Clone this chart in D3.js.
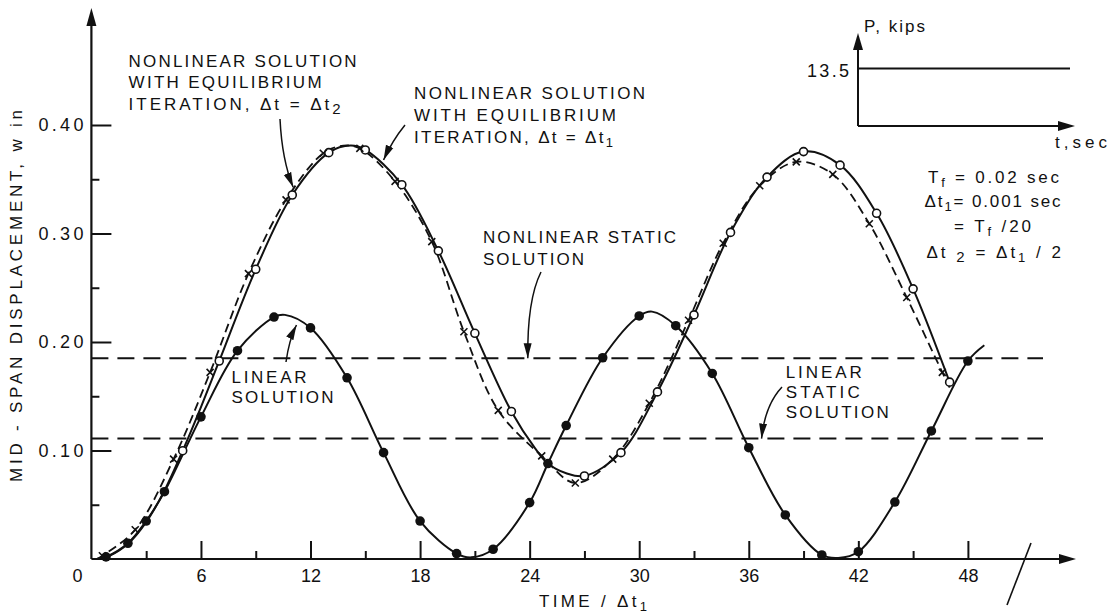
<!DOCTYPE html>
<html>
<head>
<meta charset="utf-8">
<script src="https://cdn.jsdelivr.net/npm/d3@7"></script>
<style>
  body { margin: 0; background: #fff; }
  text { font-family: "Liberation Sans", Arial, sans-serif; fill: #111; }
</style>
</head>
<body>
<div id="chart"></div>
<script>
// ---- data (t in multiples of dt1, w in inches) ----
const xTicks = [6, 12, 18, 24, 30, 36, 42, 48];
const xMinorTicks = [3, 9, 15, 21, 27, 33, 39, 45];
const yTicks = [0.10, 0.20, 0.30, 0.40];
const yMinorTicks = [0.05, 0.15, 0.25, 0.35];

const nonlinearStatic = 0.185;
const linearStatic = 0.111;

// linear solution, filled dots
const linearDots = [[0.8,0.002],[2,0.0145],[3,0.035],[4,0.062],[6,0.131],[8,0.192],[10,0.223],
  [12,0.213],[14,0.167],[16,0.098],[18,0.035],[20,0.005],[22,0.009],[24,0.052],[25,0.088],
  [26,0.123],[28,0.1855],[30,0.224],[32,0.215],[34,0.171],[36,0.1026],[38,0.0406],[40,0.0037],
  [42,0.0067],[44,0.0525],[46,0.118],[48,0.1825]];
// extra points on the linear curve (start, extremes, end)
const linearExtra = [[0.3,0],[10.6,0.225],[20.8,0.0015],[30.7,0.228],[40.9,0.001],[48.9,0.197]];

// nonlinear with equilibrium iteration, dt = dt1 (solid, open circles)
const nonlin1Circles = [[5,0.0998],[7,0.1825],[9,0.267],[11,0.3355],[13,0.3745],[15,0.377],
  [17,0.345],[19,0.284],[21,0.208],[23,0.136],[27,0.0765],[29,0.098],[31,0.154],[33,0.225],
  [35,0.301],[37,0.352],[39,0.3755],[41,0.363],[43,0.3186],[45,0.249],[47,0.163]];
const nonlin1Extra = [[0.3,0],[1,0.003],[2,0.014],[3,0.034],[4,0.063],[6,0.14],[14.2,0.381],
  [24.3,0.102],[25,0.088],[26,0.079]];

// nonlinear with equilibrium iteration, dt = dt2 (dashed, x marks)
const nonlin2Marks = [[0.6,0.003],[2.4,0.027],[4.5,0.092],[6.5,0.172],[8.6,0.263],[10.66,0.331],
  [12.7,0.374],[14.7,0.3785],[16.63,0.348],[18.64,0.2925],[20.4,0.2095],[22.28,0.137],
  [24.66,0.095],[26.5,0.070],[28.55,0.092],[30.55,0.1435],[32.7,0.220],[34.6,0.291],
  [36.6,0.344],[38.6,0.366],[40.6,0.3545],[42.6,0.309],[44.65,0.241],[46.6,0.172]];
const nonlin2Extra = [[0.3,0],[13.8,0.381],[47,0.158]];

// ---- svg ----
const W = 1117, H = 612;
const svg = d3.select("#chart").append("svg")
  .attr("width", W).attr("height", H);

const x = d3.scaleLinear().domain([0, 48]).range([91.4, 967.9]);
const y = d3.scaleLinear().domain([0, 0.4]).range([559, 125]);

const ink = "#111";

const defs = svg.append("defs");
defs.append("marker")
  .attr("id", "head")
  .attr("viewBox", "0 -5 16 10")
  .attr("refX", 15).attr("refY", 0)
  .attr("markerUnits", "userSpaceOnUse")
  .attr("markerWidth", 16).attr("markerHeight", 10)
  .attr("orient", "auto")
  .append("path").attr("d", "M0,-4L15,0L0,4Z").attr("fill", ink);

// static solution lines
svg.selectAll("line.static")
  .data([nonlinearStatic, linearStatic])
  .join("line")
  .attr("class", "static")
  .attr("x1", x(0)).attr("x2", 1043)
  .attr("y1", d => y(d)).attr("y2", d => y(d))
  .attr("stroke", ink).attr("stroke-width", 2)
  .attr("stroke-dasharray", "17,9");

// axes with inward ticks
const xAxis = svg.append("g")
  .attr("transform", `translate(0,${y(0)})`)
  .call(d3.axisBottom(x).tickValues(xTicks).tickSize(-18).tickPadding(10).tickFormat(d3.format("d")));
const xMinor = svg.append("g")
  .attr("transform", `translate(0,${y(0)})`)
  .call(d3.axisBottom(x).tickValues(xMinorTicks).tickSize(-8).tickFormat(""));
const yAxis = svg.append("g")
  .attr("transform", `translate(${x(0)},0)`)
  .call(d3.axisLeft(y).tickValues(yTicks).tickSize(-20).tickPadding(8).tickFormat(d3.format(".2f")));
const yMinor = svg.append("g")
  .attr("transform", `translate(${x(0)},0)`)
  .call(d3.axisLeft(y).tickValues(yMinorTicks).tickSize(-8).tickFormat(""));

[xAxis, xMinor, yAxis, yMinor].forEach(g => {
  g.select(".domain").remove();
  g.selectAll(".tick line").attr("stroke", ink).attr("stroke-width", 2);
});
xAxis.selectAll("text").attr("font-size", 18).attr("fill", ink);
yAxis.selectAll("text").attr("font-size", 18).attr("fill", ink)
  .attr("textLength", 45).attr("lengthAdjust", "spacing");

// origin label
svg.append("text").attr("x", x(0) - 14).attr("y", y(0) + 22.5)
  .attr("text-anchor", "middle").attr("font-size", 18).text("0");

// axis lines with arrows
svg.append("line").attr("x1", x(0)).attr("y1", y(0)).attr("x2", 1060).attr("y2", y(0))
  .attr("stroke", ink).attr("stroke-width", 2.2);
svg.append("path").attr("d", `M1076,${y(0)}L1059,${y(0) - 5}L1059,${y(0) + 5}Z`).attr("fill", ink);
svg.append("line").attr("x1", x(0)).attr("y1", y(0)).attr("x2", x(0)).attr("y2", 24)
  .attr("stroke", ink).attr("stroke-width", 2.2);
svg.append("path").attr("d", `M${x(0)},8L${x(0) - 5},26L${x(0) + 5},26Z`).attr("fill", ink);

// axis break slash
svg.append("line").attr("x1", 1007).attr("y1", 605).attr("x2", 1031).attr("y2", 543)
  .attr("stroke", ink).attr("stroke-width", 1.6);

// axis titles
svg.append("text")
  .attr("transform", "translate(21.5,296) rotate(-90)")
  .attr("text-anchor", "middle").attr("font-size", 17)
  .attr("textLength", 372).attr("lengthAdjust", "spacing")
  .text("MID - SPAN DISPLACEMENT, w in");

const xt = svg.append("text").attr("x", 539).attr("y", 606.5).attr("font-size", 17)
  .attr("textLength", 108).attr("lengthAdjust", "spacing");
xt.append("tspan").text("TIME / \u0394t");
xt.append("tspan").attr("dy", 4).attr("font-size", 13).text("1");

// curves
const line = d3.line()
  .x(d => x(d[0])).y(d => y(d[1]))
  .curve(d3.curveCatmullRom.alpha(0.5));
const byT = arr => arr.slice().sort((a, b) => a[0] - b[0]);

svg.append("path").datum(byT(linearDots.concat(linearExtra)))
  .attr("d", line).attr("fill", "none").attr("stroke", ink).attr("stroke-width", 2);
svg.append("path").datum(byT(nonlin1Circles.concat(nonlin1Extra)))
  .attr("d", line).attr("fill", "none").attr("stroke", ink).attr("stroke-width", 2);
svg.append("path").datum(byT(nonlin2Marks.concat(nonlin2Extra)))
  .attr("d", line).attr("fill", "none").attr("stroke", ink).attr("stroke-width", 1.8)
  .attr("stroke-dasharray", "9,5");

// markers
svg.selectAll("circle.lin").data(linearDots).join("circle")
  .attr("class", "lin")
  .attr("cx", d => x(d[0])).attr("cy", d => y(d[1])).attr("r", 4.8).attr("fill", ink);
svg.selectAll("circle.nl1").data(nonlin1Circles).join("circle")
  .attr("class", "nl1")
  .attr("cx", d => x(d[0])).attr("cy", d => y(d[1])).attr("r", 4)
  .attr("fill", "#fff").attr("stroke", ink).attr("stroke-width", 1.6);
svg.selectAll("path.nl2").data(nonlin2Marks).join("path")
  .attr("class", "nl2")
  .attr("d", d => {
    const cx = x(d[0]), cy = y(d[1]), s = 3.5;
    return `M${cx - s},${cy - s}L${cx + s},${cy + s}M${cx + s},${cy - s}L${cx - s},${cy + s}`;
  })
  .attr("stroke", ink).attr("stroke-width", 1.6).attr("fill", "none");

// ---- annotations ----
function label(lines, x0, y0, step, size) {
  lines.forEach((ln, i) => {
    const t = svg.append("text").attr("x", x0).attr("y", y0 + i * step)
      .attr("font-size", size || 17);
    if (ln.anchor) t.attr("text-anchor", ln.anchor);
    if (ln.len) t.attr("textLength", ln.len).attr("lengthAdjust", "spacing");
    ln.parts.forEach(p => {
      if (typeof p === "string") t.append("tspan").text(p);
      else t.append("tspan").attr("dy", p.dy).attr("font-size", p.size || 13).text(p.t);
    });
  });
}
function arrow(x1, y1, cx, cy, tip) {
  svg.append("path")
    .attr("d", `M${x1},${y1}Q${cx},${cy} ${x(tip[0])},${y(tip[1])}`)
    .attr("fill", "none").attr("stroke", ink).attr("stroke-width", 1.5)
    .attr("marker-end", "url(#head)");
}

label([
  { parts: ["NONLINEAR SOLUTION"], len: 228 },
  { parts: ["WITH EQUILIBRIUM"], len: 193 },
  { parts: ["ITERATION, \u0394t = \u0394t", { t: "2", dy: 4, size: 15 }], len: 212 }
], 128.6, 66.5, 21.5);
arrow(280, 119, 282, 160, [11.05, 0.3426]);

label([
  { parts: ["NONLINEAR SOLUTION"], len: 231 },
  { parts: ["WITH EQUILIBRIUM"], len: 202 },
  { parts: ["ITERATION, \u0394t = \u0394t", { t: "1", dy: 4 }], len: 199 }
], 414, 99, 22);
arrow(405, 125, 392, 141, [16.0, 0.3677]);

label([
  { parts: ["NONLINEAR STATIC"], len: 193 },
  { parts: ["SOLUTION"], len: 101 }
], 483, 242.5, 22);
arrow(541, 272, 527, 300, [23.9, nonlinearStatic]);

label([
  { parts: ["LINEAR"], len: 75 },
  { parts: ["SOLUTION"], len: 102 }
], 231.5, 383, 20);
arrow(286, 362, 289, 340, [11.23, 0.2157]);

label([
  { parts: ["LINEAR"], len: 76 },
  { parts: ["STATIC"], len: 74 },
  { parts: ["SOLUTION"], len: 103 }
], 785.7, 378, 20);
arrow(782, 387, 765, 405, [36.7, linearStatic]);

// ---- inset: load history ----
svg.append("line").attr("x1", 858).attr("y1", 126).attr("x2", 858).attr("y2", 48)
  .attr("stroke", ink).attr("stroke-width", 2);
svg.append("path").attr("d", "M858,33L853,50L863,50Z").attr("fill", ink);
svg.append("line").attr("x1", 858).attr("y1", 126).attr("x2", 1060).attr("y2", 126)
  .attr("stroke", ink).attr("stroke-width", 2);
svg.append("path").attr("d", "M1075,126L1058,121L1058,131Z").attr("fill", ink);
svg.append("line").attr("x1", 858).attr("y1", 68.5).attr("x2", 1070).attr("y2", 68.5)
  .attr("stroke", ink).attr("stroke-width", 2);

label([{ parts: ["P, kips"], len: 61 }], 864, 32, 0);
label([{ parts: ["13.5"], len: 42, anchor: "end" }], 849, 76.5, 0, 18);
label([{ parts: ["t,sec"], len: 52 }], 1055, 148, 0);

label([
  { parts: ["T", { t: "f", dy: 4 }, { t: " = 0.02  sec", dy: -4, size: 17 }], len: 131 }
], 928, 183, 0);
label([
  { parts: ["\u0394t", { t: "1", dy: 4 }, { t: "= 0.001 sec", dy: -4, size: 17 }], len: 136 }
], 924.6, 206.5, 0);
label([
  { parts: ["= T", { t: "f", dy: 4 }, { t: " /20", dy: -4, size: 17 }], len: 77 }
], 954, 231.5, 0);
label([
  { parts: ["\u0394t ", { t: "2", dy: 4, size: 15 }, { t: " = \u0394t", dy: -4, size: 17 }, { t: "1", dy: 4 }, { t: " / 2", dy: -4, size: 17 }], len: 134.5 }
], 926.5, 258, 0);
</script>
</body>
</html>
